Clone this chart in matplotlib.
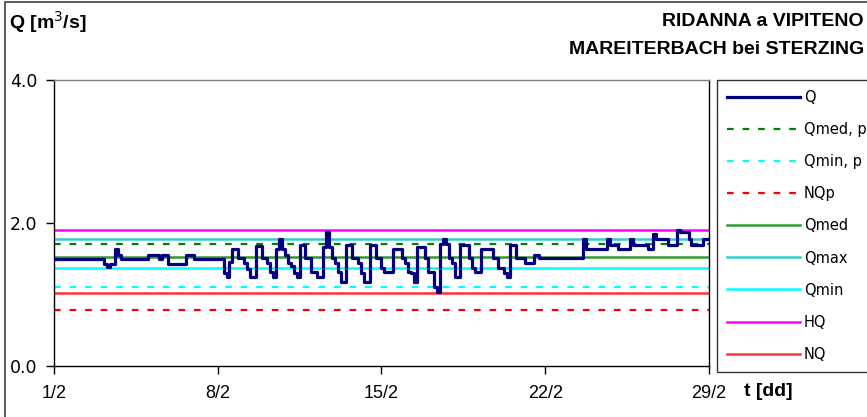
import numpy as np
import matplotlib
matplotlib.use("Agg")
import matplotlib.pyplot as plt
from matplotlib.patches import Rectangle

# ---------------- data ----------------
# Q [m3/s], 3-hourly values (00,03,06,09,12,15,18,21 h) for each day 1/2 .. 28/2
q_days = [
    [1.50, 1.50, 1.50, 1.50, 1.50, 1.50, 1.50, 1.50],  # 1/2
    [1.50, 1.50, 1.50, 1.50, 1.50, 1.50, 1.50, 1.50],  # 2/2
    [1.50, 1.42, 1.38, 1.42, 1.42, 1.64, 1.55, 1.50],  # 3/2
    [1.50, 1.50, 1.50, 1.50, 1.50, 1.50, 1.50, 1.50],  # 4/2
    [1.55, 1.55, 1.55, 1.55, 1.50, 1.55, 1.55, 1.43],  # 5/2
    [1.43, 1.43, 1.43, 1.43, 1.43, 1.55, 1.55, 1.55],  # 6/2
    [1.50, 1.50, 1.50, 1.50, 1.50, 1.50, 1.50, 1.50],  # 7/2
    [1.50, 1.50, 1.30, 1.25, 1.45, 1.64, 1.64, 1.51],  # 8/2
    [1.51, 1.44, 1.35, 1.25, 1.25, 1.68, 1.68, 1.51],  # 9/2
    [1.51, 1.44, 1.32, 1.25, 1.64, 1.78, 1.64, 1.55],  # 10/2
    [1.44, 1.40, 1.30, 1.25, 1.69, 1.69, 1.51, 1.51],  # 11/2
    [1.32, 1.32, 1.25, 1.25, 1.66, 1.87, 1.66, 1.51],  # 12/2
    [1.44, 1.32, 1.18, 1.18, 1.69, 1.69, 1.51, 1.51],  # 13/2
    [1.44, 1.30, 1.18, 1.18, 1.69, 1.69, 1.51, 1.51],  # 14/2
    [1.37, 1.32, 1.32, 1.32, 1.64, 1.64, 1.64, 1.51],  # 15/2
    [1.44, 1.32, 1.30, 1.18, 1.66, 1.66, 1.66, 1.51],  # 16/2
    [1.32, 1.32, 1.11, 1.04, 1.71, 1.78, 1.71, 1.51],  # 17/2
    [1.44, 1.25, 1.25, 1.69, 1.69, 1.69, 1.51, 1.37],  # 18/2
    [1.32, 1.32, 1.64, 1.64, 1.64, 1.64, 1.51, 1.51],  # 19/2
    [1.37, 1.37, 1.30, 1.25, 1.69, 1.69, 1.51, 1.51],  # 20/2
    [1.51, 1.44, 1.44, 1.44, 1.55, 1.55, 1.51, 1.51],  # 21/2
    [1.51, 1.51, 1.51, 1.51, 1.51, 1.51, 1.51, 1.51],  # 22/2
    [1.51, 1.51, 1.51, 1.51, 1.51, 1.78, 1.64, 1.64],  # 23/2
    [1.64, 1.64, 1.64, 1.64, 1.64, 1.78, 1.69, 1.69],  # 24/2
    [1.69, 1.64, 1.64, 1.64, 1.64, 1.78, 1.69, 1.69],  # 25/2
    [1.69, 1.69, 1.69, 1.64, 1.64, 1.85, 1.78, 1.78],  # 26/2
    [1.78, 1.78, 1.69, 1.69, 1.69, 1.90, 1.87, 1.87],  # 27/2
    [1.87, 1.78, 1.69, 1.69, 1.69, 1.69, 1.78, 1.78],  # 28/2
]
q_last = 1.78  # 29/2 00h

# reference levels [m3/s]
Qmed_p = 1.70
Qmin_p = 1.11
NQp = 0.79
Qmed = 1.53
Qmax = 1.77
Qmin = 1.37
HQ = 1.90
NQ = 1.02

x_tick_days = [0, 7, 14, 21, 28]
x_tick_labels = ["1/2", "8/2", "15/2", "22/2", "29/2"]
y_ticks = [0.0, 2.0, 4.0]
y_tick_labels = ["0.0", "2.0", "4.0"]

title_left = "Q [m$^3$/s]"
title_right1 = "RIDANNA a VIPITENO"
title_right2 = "MAREITERBACH bei STERZING"
xlabel = "t [dd]"

# ---------------- figure ----------------
W, H = 867, 417
fig = plt.figure(figsize=(W / 100, H / 100), dpi=100)
fig.patch.set_facecolor("white")

sans = ["Liberation Sans", "DejaVu Sans"]

ax = fig.add_axes([54 / W, 1 - 366 / H, (709 - 54) / W, (366 - 80) / H])

q = np.array([v for day in q_days for v in day] + [q_last])
t = np.arange(len(q)) * 3.0 / 24.0

lines = []
lines.append(ax.step(t, q, where="post", color="#000080", lw=2.3, label="Q", zorder=5)[0])
lines.append(ax.axhline(Qmed_p, color="#008000", lw=1.6, ls=(0, (3, 4)), label="Qmed, p"))
lines.append(ax.axhline(Qmin_p, color="#00FFFF", lw=1.6, ls=(0, (3, 4)), label="Qmin, p"))
lines.append(ax.axhline(NQp, color="#FF0000", lw=1.6, ls=(0, (3, 4)), label="NQp"))
lines.append(ax.axhline(Qmed, color="#339933", lw=1.8, label="Qmed"))
lines.append(ax.axhline(Qmax, color="#33CCCC", lw=1.8, label="Qmax"))
lines.append(ax.axhline(Qmin, color="#00FFFF", lw=1.8, label="Qmin"))
lines.append(ax.axhline(HQ, color="#FF00FF", lw=1.8, label="HQ"))
lines.append(ax.axhline(NQ, color="#FF3333", lw=1.8, label="NQ"))

ax.set_xlim(0, 28)
ax.set_ylim(0, 4)
ax.set_xticks(x_tick_days)
ax.set_xticklabels(x_tick_labels, fontfamily=sans, fontsize=13)
ax.set_yticks(y_ticks)
ax.set_yticklabels(y_tick_labels, fontfamily="DejaVu Sans", fontsize=12.5)
ax.tick_params(axis="both", direction="out", length=6, width=1, colors="black")
ax.tick_params(axis="y", pad=6)
ax.tick_params(axis="x", pad=8)
for s in ["left", "bottom", "right"]:
    ax.spines[s].set_color("black")
    ax.spines[s].set_linewidth(1.0)
ax.spines["top"].set_color("#808080")
ax.spines["top"].set_linewidth(1.0)

leg = ax.legend(handles=lines, loc="upper left",
                bbox_to_anchor=(717 / W, 1 - 80 / H), bbox_transform=fig.transFigure,
                borderaxespad=0, frameon=True, fancybox=False, edgecolor="black",
                prop={"family": "DejaVu Sans", "size": 10.5},
                handlelength=5.0, handletextpad=0.25, labelspacing=1.17, borderpad=0.7)
leg.get_frame().set_linewidth(1.0)

fig.text(9 / W, 1 - 22 / H, title_left, fontfamily=sans, fontweight="bold",
         fontsize=14, ha="left", va="center")
fig.text(864 / W, 1 - 22 / H, title_right1, fontfamily=sans, fontweight="bold",
         fontsize=14, ha="right", va="center")
fig.text(864 / W, 1 - 50 / H, title_right2, fontfamily=sans, fontweight="bold",
         fontsize=14, ha="right", va="center")
fig.text(744 / W, 1 - 391 / H, xlabel, fontfamily=sans, fontweight="bold",
         fontsize=14, ha="left", va="center")

# chart-area border
fig.patches.append(Rectangle((5 / W, -0.05), 1.1, 1 - 2 / H + 0.05, transform=fig.transFigure,
                             fill=False, edgecolor="#404040", lw=1.2))

fig.savefig("out.png", dpi=100)
